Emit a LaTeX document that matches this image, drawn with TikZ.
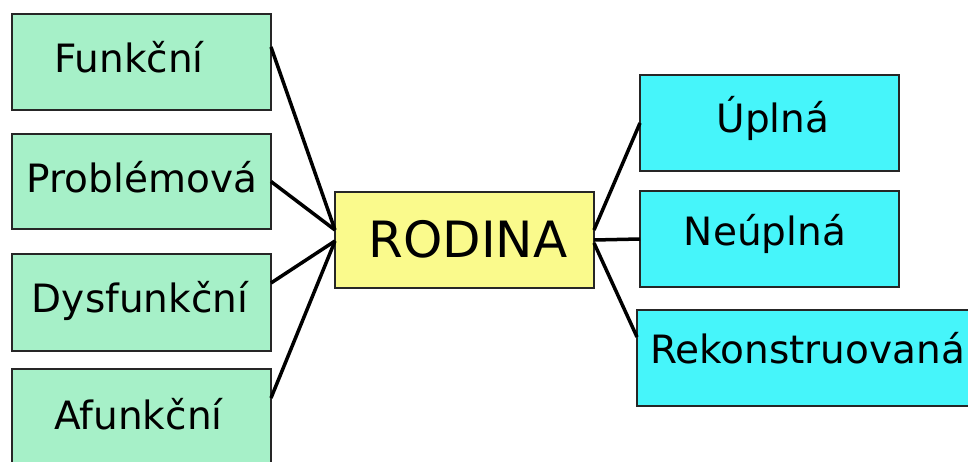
\documentclass[tikz,border=0pt]{standalone}
\usepackage{fontspec}
\setmainfont{DejaVu Sans}
\usetikzlibrary{calc}
\definecolor{mint}{RGB}{166,240,200}
\definecolor{lemon}{RGB}{250,250,140}
\definecolor{aqua}{RGB}{70,245,250}
\tikzset{
  box/.style={draw=black!85, line width=1.6pt, inner sep=0pt, outer sep=0pt},
  txt/.style={anchor=base, inner sep=0pt, font=\fontsize{39}{47}\selectfont},
  bigtxt/.style={anchor=base, inner sep=0pt, font=\fontsize{50}{60}\selectfont},
  link/.style={line width=3.5pt, black}
}
\begin{document}
\begin{tikzpicture}[x=1pt,y=-1pt]
\useasboundingbox (0,0) rectangle (968,462);
\clip (0,0) rectangle (968,462);
% left boxes
\node[box, fill=mint, minimum width=259pt, minimum height=96pt] (f) at (141.5,62) {};
\node[box, fill=mint, minimum width=259pt, minimum height=95pt] (p) at (141.5,181.5) {};
\node[box, fill=mint, minimum width=259pt, minimum height=97pt] (d) at (141.5,302.5) {};
\node[box, fill=mint, minimum width=259pt, minimum height=97pt] (a) at (141.5,417.5) {};
% centre
\node[box, fill=lemon, minimum width=259pt, minimum height=96pt] (r) at (464.5,240) {};
% right boxes
\node[box, fill=aqua, minimum width=259pt, minimum height=96pt] (u) at (769.5,123) {};
\node[box, fill=aqua, minimum width=259pt, minimum height=96pt] (n) at (769.5,239) {};
\node[box, fill=aqua, minimum width=340pt, minimum height=96pt] (k) at (807,358) {};
% texts
\node[txt] (tf) at (129,73) {Funkční};
\node[txt] (tp) at (142,193) {Problémová};
\node[txt] (td) at (140,312) {Dysfunkční};
\node[txt] (ta) at (138.5,429) {Afunkční};
\node[bigtxt] (tr) at (468,258) {RODINA};
\node[txt] (tu) at (773,133) {Úplná};
\node[txt] (tn) at (765,246) {Neúplná};
\node[txt] (tk) at (807.5,363) {Rekonstruovaná};
% connectors
\coordinate (rl1) at ($(r.north west)+(0,38)$);
\coordinate (rl2) at ($(r.north west)+(0,49)$);
\coordinate (rr1) at ($(r.north east)+(0,38)$);
\coordinate (rr2) at ($(r.north east)+(0,48)$);
\coordinate (rr3) at ($(r.north east)+(0,51)$);
\draw[link] ($(f.north east)+(0,33)$) -- (rl1);
\draw[link] (p.east) -- (rl1);
\draw[link] ($(d.north east)+(0,29)$) -- (rl2);
\draw[link] ($(a.north east)+(0,29)$) -- (rl2);
\draw[link] (rr1) -- (u.west);
\draw[link] (rr2) -- (n.west);
\draw[link] (rr3) -- ($(k.north west)+(0,27)$);
\end{tikzpicture}
\end{document}
